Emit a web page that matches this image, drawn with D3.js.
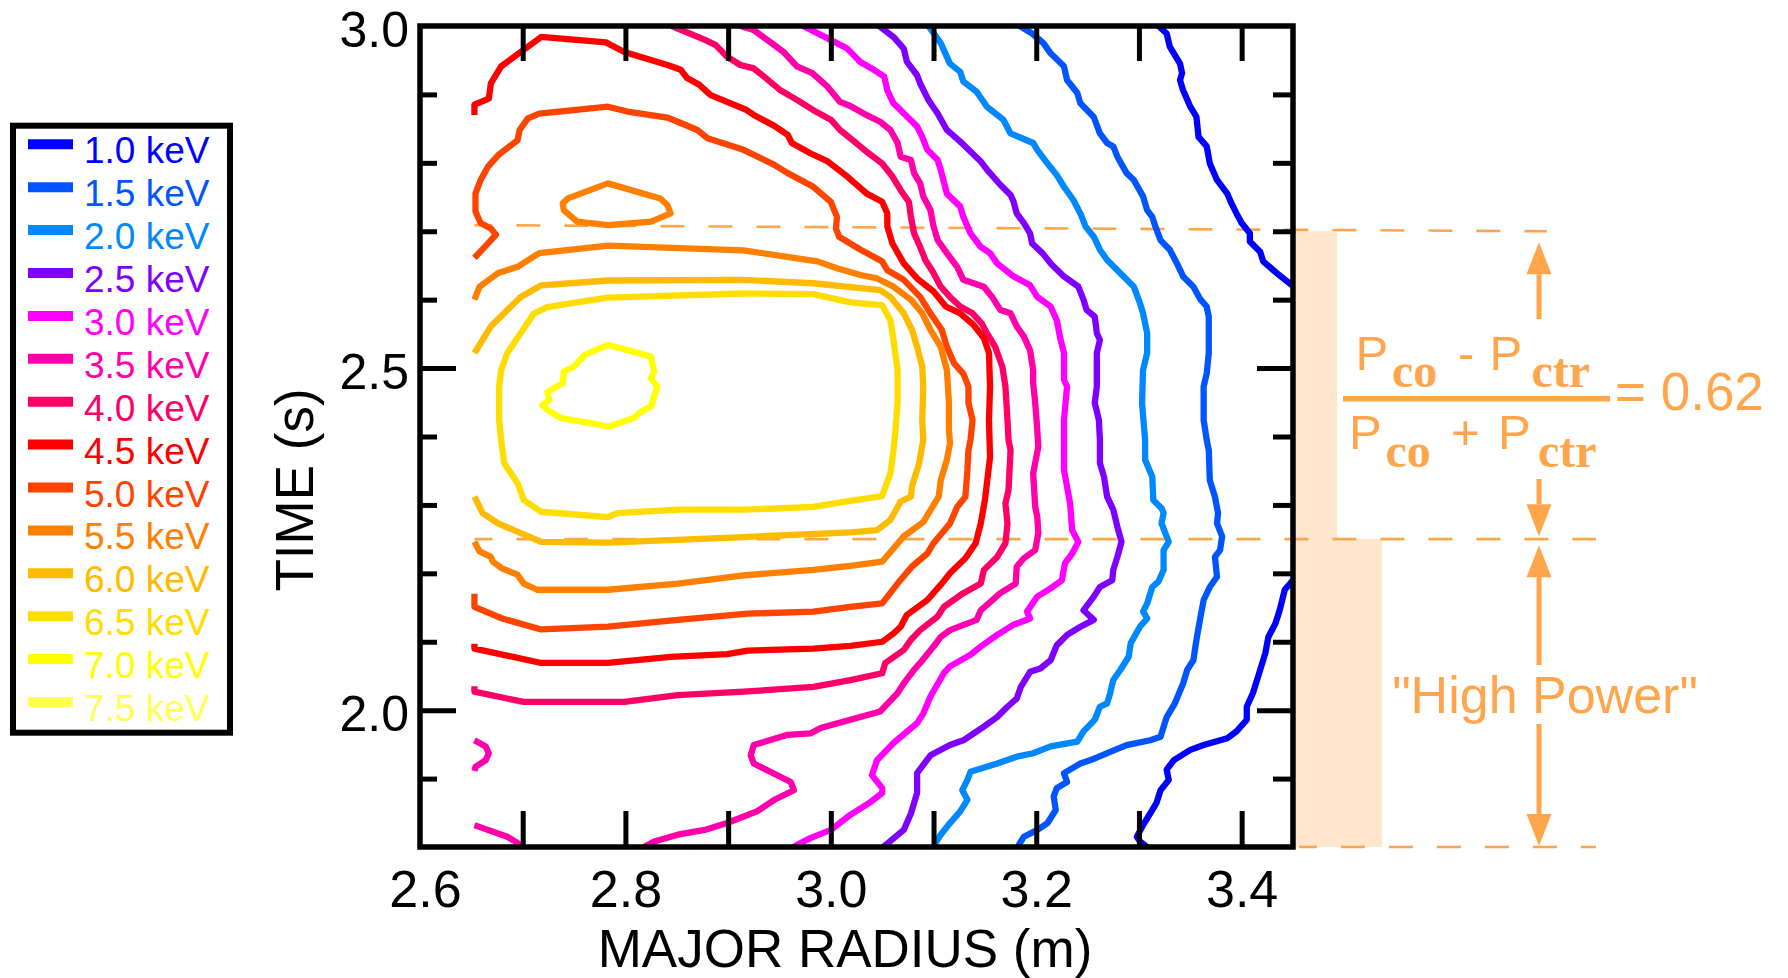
<!DOCTYPE html>
<html>
<head>
<meta charset="utf-8">
<script src="https://cdn.jsdelivr.net/npm/d3@7"></script>
<style>
  body { margin: 0; background: #fff; }
  svg { display: block; }
  text { font-family: "Liberation Sans", Arial, sans-serif; }
</style>
</head>
<body>
<svg id="chart" width="1788" height="978"></svg>
<script>
// ---- Electron temperature contours, T_e(R, t), in keV ----
const legendLevels = ["1.0","1.5","2.0","2.5","3.0","3.5","4.0","4.5","5.0","5.5","6.0","6.5","7.0","7.5"];
const levelColors  = ["#0000ff","#0055ff","#0088ff","#8000ff","#ff00ff","#ff00aa","#ff0066",
                      "#ff0000","#ff4400","#ff8000","#ffbb00","#ffdd00","#ffff00","#ffff55"];

const xTickLabels = [2.6, 2.8, 3.0, 3.2, 3.4];
const xTickMarks  = [2.7, 2.8, 2.9, 3.0, 3.1, 3.2, 3.3, 3.4];
const yTickLabels = [2.0, 2.5, 3.0];
const yMajorTicks = [2.0, 2.5];
const yMinorTicks = [1.9, 2.1, 2.2, 2.3, 2.4, 2.6, 2.7, 2.8, 2.9];

// each contour is a list of [major radius (m), time (s)]
const c10Top = [[3.319,3.000],[3.327,2.989],[3.330,2.970],[3.340,2.945],[3.342,2.931],[3.340,2.921],[3.343,2.906],[3.350,2.882],[3.356,2.867],[3.358,2.838],[3.366,2.824],[3.369,2.799],[3.376,2.775],[3.386,2.755],[3.390,2.741],[3.395,2.726],[3.400,2.712],[3.408,2.697],[3.408,2.685],[3.418,2.670],[3.421,2.656],[3.434,2.639],[3.450,2.620]];
const c10Bottom = [[3.450,2.190],[3.442,2.176],[3.437,2.146],[3.433,2.127],[3.426,2.107],[3.423,2.083],[3.416,2.049],[3.411,2.025],[3.405,2.005],[3.405,1.986],[3.395,1.969],[3.386,1.959],[3.363,1.949],[3.350,1.942],[3.334,1.927],[3.327,1.913],[3.329,1.898],[3.321,1.883],[3.317,1.864],[3.311,1.849],[3.304,1.832],[3.298,1.815],[3.301,1.808],[3.308,1.800]];
const c15 = [[3.184,3.000],[3.196,2.989],[3.207,2.975],[3.214,2.960],[3.227,2.941],[3.230,2.921],[3.240,2.902],[3.243,2.887],[3.256,2.867],[3.262,2.843],[3.269,2.829],[3.275,2.824],[3.279,2.809],[3.288,2.785],[3.295,2.775],[3.304,2.751],[3.308,2.731],[3.313,2.721],[3.316,2.707],[3.321,2.687],[3.330,2.673],[3.337,2.653],[3.343,2.634],[3.353,2.619],[3.360,2.600],[3.366,2.590],[3.368,2.575],[3.368,2.522],[3.366,2.492],[3.363,2.473],[3.363,2.424],[3.366,2.395],[3.368,2.380],[3.369,2.336],[3.374,2.312],[3.377,2.288],[3.376,2.273],[3.381,2.254],[3.379,2.234],[3.374,2.224],[3.376,2.195],[3.369,2.180],[3.363,2.161],[3.360,2.137],[3.356,2.103],[3.353,2.073],[3.347,2.059],[3.343,2.039],[3.335,2.010],[3.327,1.990],[3.321,1.961],[3.311,1.956],[3.288,1.949],[3.272,1.939],[3.253,1.927],[3.243,1.922],[3.227,1.908],[3.230,1.895],[3.220,1.886],[3.217,1.874],[3.219,1.854],[3.211,1.835],[3.201,1.825],[3.188,1.815],[3.183,1.803],[3.183,1.800]];
const c20 = [[3.095,3.000],[3.107,2.975],[3.116,2.945],[3.126,2.933],[3.129,2.919],[3.142,2.904],[3.152,2.882],[3.168,2.863],[3.175,2.843],[3.197,2.829],[3.201,2.819],[3.211,2.799],[3.220,2.782],[3.227,2.765],[3.236,2.746],[3.243,2.726],[3.248,2.707],[3.256,2.692],[3.262,2.673],[3.269,2.658],[3.279,2.643],[3.295,2.619],[3.301,2.595],[3.304,2.580],[3.308,2.551],[3.308,2.522],[3.304,2.497],[3.303,2.449],[3.306,2.395],[3.306,2.366],[3.313,2.341],[3.314,2.307],[3.322,2.295],[3.324,2.288],[3.322,2.273],[3.329,2.246],[3.324,2.234],[3.324,2.205],[3.319,2.188],[3.313,2.180],[3.308,2.156],[3.304,2.144],[3.308,2.134],[3.301,2.122],[3.292,2.098],[3.290,2.078],[3.282,2.059],[3.275,2.044],[3.272,2.025],[3.269,2.010],[3.262,2.005],[3.257,1.986],[3.246,1.969],[3.240,1.954],[3.214,1.947],[3.197,1.937],[3.181,1.932],[3.162,1.922],[3.136,1.910],[3.133,1.898],[3.128,1.883],[3.133,1.869],[3.126,1.852],[3.116,1.835],[3.107,1.818],[3.102,1.806],[3.100,1.800]];
const c25 = [[3.047,3.000],[3.061,2.984],[3.071,2.967],[3.074,2.948],[3.084,2.928],[3.087,2.916],[3.095,2.892],[3.104,2.872],[3.113,2.848],[3.126,2.831],[3.133,2.821],[3.146,2.802],[3.152,2.790],[3.165,2.768],[3.175,2.753],[3.178,2.743],[3.181,2.726],[3.188,2.712],[3.194,2.697],[3.196,2.682],[3.206,2.668],[3.214,2.653],[3.227,2.634],[3.241,2.619],[3.246,2.600],[3.249,2.585],[3.257,2.575],[3.259,2.551],[3.262,2.541],[3.259,2.522],[3.259,2.473],[3.257,2.449],[3.261,2.424],[3.262,2.395],[3.262,2.361],[3.266,2.341],[3.269,2.312],[3.275,2.293],[3.279,2.268],[3.283,2.246],[3.279,2.224],[3.275,2.205],[3.274,2.190],[3.262,2.180],[3.256,2.166],[3.246,2.146],[3.256,2.132],[3.243,2.122],[3.230,2.110],[3.220,2.095],[3.214,2.073],[3.204,2.061],[3.194,2.056],[3.185,2.034],[3.181,2.017],[3.172,2.005],[3.162,1.990],[3.149,1.976],[3.129,1.956],[3.116,1.949],[3.097,1.934],[3.084,1.908],[3.084,1.879],[3.078,1.849],[3.071,1.825],[3.055,1.805],[3.051,1.800]];
const c30 = [[2.973,3.000],[2.997,2.982],[3.016,2.967],[3.029,2.947],[3.042,2.936],[3.052,2.926],[3.055,2.906],[3.061,2.887],[3.068,2.877],[3.084,2.853],[3.089,2.838],[3.094,2.819],[3.104,2.804],[3.107,2.790],[3.113,2.755],[3.126,2.736],[3.129,2.721],[3.136,2.697],[3.146,2.677],[3.155,2.668],[3.162,2.653],[3.178,2.634],[3.194,2.621],[3.201,2.604],[3.214,2.590],[3.220,2.570],[3.223,2.546],[3.227,2.522],[3.227,2.483],[3.230,2.473],[3.227,2.424],[3.227,2.351],[3.233,2.302],[3.235,2.263],[3.241,2.246],[3.235,2.229],[3.228,2.215],[3.225,2.190],[3.214,2.178],[3.201,2.166],[3.191,2.144],[3.194,2.134],[3.178,2.125],[3.162,2.110],[3.146,2.093],[3.136,2.081],[3.116,2.064],[3.110,2.054],[3.097,2.020],[3.090,1.995],[3.084,1.981],[3.061,1.952],[3.045,1.927],[3.040,1.905],[3.050,1.886],[3.050,1.879],[3.039,1.866],[3.019,1.847],[3.000,1.825],[2.980,1.813],[2.967,1.803],[2.964,1.800]];
const c35Main = [[2.912,3.000],[2.925,2.994],[2.945,2.972],[2.954,2.962],[2.967,2.941],[2.982,2.931],[2.997,2.911],[3.009,2.889],[3.019,2.883],[3.032,2.872],[3.048,2.860],[3.058,2.848],[3.065,2.829],[3.068,2.809],[3.078,2.804],[3.081,2.785],[3.087,2.770],[3.090,2.751],[3.097,2.731],[3.100,2.707],[3.104,2.687],[3.113,2.668],[3.123,2.648],[3.129,2.629],[3.149,2.619],[3.157,2.604],[3.165,2.585],[3.175,2.580],[3.181,2.561],[3.188,2.546],[3.194,2.526],[3.197,2.497],[3.197,2.478],[3.199,2.449],[3.201,2.410],[3.202,2.385],[3.197,2.346],[3.199,2.297],[3.201,2.283],[3.202,2.259],[3.199,2.234],[3.188,2.222],[3.181,2.210],[3.180,2.185],[3.165,2.171],[3.146,2.146],[3.142,2.132],[3.116,2.117],[3.107,2.107],[3.100,2.093],[3.087,2.069],[3.081,2.059],[3.071,2.039],[3.065,2.025],[3.048,1.998],[3.019,1.986],[2.990,1.974],[2.980,1.966],[2.958,1.964],[2.925,1.949],[2.922,1.934],[2.925,1.922],[2.941,1.910],[2.961,1.895],[2.964,1.883],[2.945,1.869],[2.928,1.852],[2.899,1.835],[2.877,1.825],[2.851,1.818],[2.828,1.808],[2.818,1.800]];
const c35Corner = [[2.653,1.832],[2.666,1.825],[2.685,1.815],[2.698,1.803],[2.700,1.800]];
const c35Edge = [[2.653,1.956],[2.664,1.947],[2.667,1.937],[2.664,1.927],[2.654,1.917],[2.653,1.911]];
const c40 = [[2.845,3.000],[2.877,2.980],[2.888,2.972],[2.899,2.955],[2.912,2.943],[2.925,2.938],[2.935,2.926],[2.951,2.906],[2.967,2.892],[2.983,2.877],[3.000,2.863],[3.009,2.848],[3.019,2.836],[3.035,2.816],[3.050,2.799],[3.060,2.780],[3.068,2.760],[3.076,2.743],[3.078,2.721],[3.081,2.697],[3.087,2.677],[3.092,2.658],[3.100,2.639],[3.107,2.619],[3.116,2.604],[3.126,2.590],[3.138,2.580],[3.147,2.565],[3.152,2.551],[3.160,2.531],[3.167,2.502],[3.170,2.473],[3.172,2.424],[3.173,2.395],[3.175,2.380],[3.173,2.322],[3.170,2.302],[3.172,2.273],[3.170,2.244],[3.162,2.224],[3.149,2.205],[3.146,2.185],[3.129,2.171],[3.110,2.151],[3.104,2.137],[3.087,2.117],[3.078,2.103],[3.071,2.088],[3.053,2.069],[3.050,2.054],[3.019,2.044],[2.983,2.034],[2.915,2.027],[2.851,2.022],[2.799,2.012],[2.701,2.012],[2.653,2.027],[2.653,2.035]];
const c45 = [[2.653,2.870],[2.653,2.885],[2.667,2.894],[2.669,2.916],[2.679,2.941],[2.698,2.962],[2.718,2.984],[2.781,2.976],[2.799,2.962],[2.841,2.943],[2.854,2.936],[2.860,2.924],[2.872,2.914],[2.883,2.899],[2.899,2.889],[2.917,2.878],[2.925,2.870],[2.945,2.854],[2.958,2.841],[2.962,2.829],[2.980,2.814],[2.997,2.802],[3.016,2.780],[3.035,2.755],[3.050,2.743],[3.055,2.726],[3.055,2.707],[3.060,2.682],[3.071,2.653],[3.084,2.631],[3.100,2.612],[3.112,2.590],[3.126,2.580],[3.139,2.563],[3.149,2.544],[3.154,2.522],[3.155,2.473],[3.154,2.424],[3.155,2.370],[3.152,2.332],[3.150,2.307],[3.146,2.273],[3.141,2.244],[3.131,2.222],[3.116,2.200],[3.108,2.185],[3.094,2.161],[3.074,2.139],[3.068,2.122],[3.061,2.112],[3.050,2.100],[3.019,2.094],[2.983,2.090],[2.919,2.087],[2.899,2.082],[2.844,2.078],[2.783,2.069],[2.718,2.069],[2.653,2.090],[2.653,2.097]];
const c50 = [[2.653,2.661],[2.666,2.682],[2.674,2.695],[2.669,2.704],[2.659,2.712],[2.654,2.729],[2.654,2.755],[2.659,2.775],[2.666,2.794],[2.676,2.811],[2.695,2.833],[2.697,2.848],[2.705,2.865],[2.716,2.872],[2.783,2.882],[2.802,2.875],[2.841,2.866],[2.851,2.860],[2.870,2.848],[2.880,2.836],[2.915,2.819],[2.945,2.797],[2.958,2.785],[2.983,2.765],[3.000,2.743],[3.006,2.721],[3.005,2.704],[3.008,2.692],[3.029,2.673],[3.050,2.656],[3.055,2.643],[3.071,2.629],[3.087,2.604],[3.097,2.580],[3.108,2.556],[3.113,2.531],[3.120,2.507],[3.129,2.492],[3.134,2.473],[3.134,2.449],[3.138,2.424],[3.136,2.395],[3.134,2.380],[3.133,2.351],[3.131,2.312],[3.123,2.297],[3.116,2.273],[3.100,2.244],[3.094,2.229],[3.079,2.210],[3.065,2.185],[3.050,2.156],[3.019,2.151],[2.983,2.144],[2.919,2.141],[2.851,2.132],[2.783,2.122],[2.718,2.118],[2.680,2.134],[2.653,2.151],[2.653,2.170]];
const c55Main = [[2.653,2.600],[2.658,2.619],[2.676,2.639],[2.695,2.648],[2.716,2.668],[2.783,2.679],[2.915,2.672],[2.987,2.656],[3.006,2.646],[3.029,2.636],[3.045,2.631],[3.061,2.619],[3.078,2.600],[3.089,2.580],[3.097,2.556],[3.107,2.531],[3.113,2.497],[3.115,2.449],[3.115,2.410],[3.116,2.390],[3.113,2.366],[3.107,2.336],[3.105,2.312],[3.090,2.275],[3.071,2.254],[3.050,2.217],[3.019,2.211],[2.983,2.205],[2.915,2.197],[2.851,2.185],[2.783,2.176],[2.714,2.176],[2.701,2.185],[2.695,2.198],[2.680,2.207],[2.671,2.217],[2.669,2.224],[2.658,2.232],[2.653,2.246]];
const c55Loop = [[2.783,2.770],[2.834,2.748],[2.841,2.738],[2.844,2.726],[2.825,2.714],[2.783,2.709],[2.753,2.714],[2.740,2.731],[2.739,2.741],[2.744,2.748]];
const c60 = [[2.653,2.522],[2.669,2.561],[2.698,2.604],[2.718,2.621],[2.783,2.628],[2.915,2.629],[2.983,2.624],[3.029,2.617],[3.048,2.614],[3.058,2.604],[3.071,2.580],[3.079,2.556],[3.084,2.531],[3.089,2.502],[3.090,2.473],[3.089,2.424],[3.090,2.395],[3.086,2.361],[3.079,2.327],[3.078,2.312],[3.068,2.305],[3.058,2.278],[3.045,2.263],[3.019,2.260],[2.915,2.253],[2.783,2.245],[2.718,2.246],[2.676,2.273],[2.661,2.288],[2.653,2.312]];
const c65 = [[2.983,2.608],[2.915,2.609],[2.783,2.603],[2.757,2.597],[2.724,2.589],[2.711,2.580],[2.698,2.551],[2.685,2.522],[2.679,2.497],[2.677,2.473],[2.677,2.424],[2.679,2.395],[2.682,2.361],[2.695,2.332],[2.701,2.307],[2.718,2.290],[2.783,2.282],[2.792,2.288],[2.851,2.293],[2.915,2.293],[2.983,2.297],[3.019,2.306],[3.050,2.313],[3.058,2.346],[3.061,2.380],[3.063,2.410],[3.065,2.449],[3.065,2.497],[3.061,2.541],[3.058,2.570],[3.050,2.592],[3.019,2.596]];
const c70 = [[2.783,2.534],[2.802,2.526],[2.825,2.517],[2.826,2.507],[2.828,2.495],[2.825,2.485],[2.831,2.473],[2.828,2.458],[2.825,2.444],[2.815,2.436],[2.808,2.427],[2.783,2.414],[2.776,2.417],[2.737,2.427],[2.724,2.439],[2.719,2.446],[2.726,2.453],[2.724,2.465],[2.739,2.478],[2.740,2.495],[2.750,2.502],[2.760,2.519]];

// contour pieces per level (index into legendLevels / levelColors)
const contourSets = [
  { level: 0,  open: [c10Top, c10Bottom], closed: [] },
  { level: 1,  open: [c15], closed: [] },
  { level: 2,  open: [c20], closed: [] },
  { level: 3,  open: [c25], closed: [] },
  { level: 4,  open: [c30], closed: [] },
  { level: 5,  open: [c35Main, c35Corner, c35Edge], closed: [] },
  { level: 6,  open: [c40], closed: [] },
  { level: 7,  open: [c45], closed: [] },
  { level: 8,  open: [c50], closed: [] },
  { level: 9,  open: [c55Main], closed: [c55Loop] },
  { level: 10, open: [c60], closed: [] },
  { level: 11, open: [], closed: [c65] },
  { level: 12, open: [], closed: [c70] }
];

// time window annotation (s): balanced-injection window and high power phase
const windowTimes = [2.70, 2.25, 1.80];
const ratioValue = "0.62";
const annotColor = "#ffa64d";
const shadeColor = "#ffe6cc";

// ---- scales ----
const svg = d3.select("#chart");
const x = d3.scaleLinear().domain([2.6, 3.45]).range([420, 1293]);
const y = d3.scaleLinear().domain([1.8, 3.0]).range([847, 26]);

svg.append("rect").attr("width", 1788).attr("height", 978).attr("fill", "#fff");

svg.append("defs").append("clipPath").attr("id", "plotClip")
  .append("rect")
  .attr("x", x(2.6)).attr("y", y(3.0))
  .attr("width", x(3.45) - x(2.6)).attr("height", y(1.8) - y(3.0));

// ---- time window annotation (behind the contours) ----
const ann = svg.append("g");
const frameRight = x(3.45);

ann.append("rect")
  .attr("x", frameRight + 3).attr("y", y(windowTimes[0]))
  .attr("width", 41).attr("height", y(windowTimes[1]) - y(windowTimes[0]))
  .attr("fill", shadeColor);
ann.append("rect")
  .attr("x", frameRight + 3).attr("y", y(windowTimes[1]))
  .attr("width", 86).attr("height", y(windowTimes[2]) - y(windowTimes[1]))
  .attr("fill", shadeColor);

const dashed = [
  { x1: x(2.653), y1: y(2.709), x2: 1547, y2: y(windowTimes[0]) },
  { x1: x(2.653), y1: y(windowTimes[1]), x2: 1596, y2: y(windowTimes[1]) },
  { x1: frameRight + 6, y1: y(windowTimes[2]), x2: 1596, y2: y(windowTimes[2]) }
];
ann.selectAll("line.dash").data(dashed).join("line")
  .attr("class", "dash")
  .attr("x1", d => d.x1).attr("y1", d => d.y1)
  .attr("x2", d => d.x2).attr("y2", d => d.y2)
  .attr("stroke", annotColor).attr("stroke-width", 2.6)
  .attr("stroke-dasharray", "24,24").attr("stroke-dashoffset", 6);

// arrows: tip and tail positions relative to the window edges
const arrowX = 1539;
const arrows = [
  { tip: y(windowTimes[0]) + 11, tail: 319 },
  { tip: y(windowTimes[1]) - 3,  tail: 479 },
  { tip: y(windowTimes[1]) + 6,  tail: 665 },
  { tip: y(windowTimes[2]) - 1,  tail: 724 }
];
arrows.forEach(a => {
  const dir = a.tail > a.tip ? 1 : -1;
  const base = a.tip + dir * 32;
  ann.append("line")
    .attr("x1", arrowX).attr("x2", arrowX)
    .attr("y1", base).attr("y2", a.tail)
    .attr("stroke", annotColor).attr("stroke-width", 5);
  ann.append("path")
    .attr("d", `M${arrowX},${a.tip} L${arrowX - 12.5},${base} L${arrowX + 12.5},${base} Z`)
    .attr("fill", annotColor);
});

// fraction (P_co - P_ctr)/(P_co + P_ctr) = 0.62
const sans = "'Liberation Sans', Arial, sans-serif";
const serif = "'Liberation Serif', 'Times New Roman', serif";
const fracParts = [
  { t: "P",   x: 1355.5, y: 370,   f: sans,  s: 49, w: "normal" },
  { t: "co",  x: 1392,   y: 387.3, f: serif, s: 48, w: "bold" },
  { t: "-",   x: 1458,   y: 370,   f: sans,  s: 49, w: "normal" },
  { t: "P",   x: 1489.5, y: 370,   f: sans,  s: 49, w: "normal" },
  { t: "ctr", x: 1531.5, y: 387.3, f: serif, s: 48, w: "bold" },
  { t: "P",   x: 1349,   y: 449.3, f: sans,  s: 49, w: "normal" },
  { t: "co",  x: 1385.5, y: 466.7, f: serif, s: 48, w: "bold" },
  { t: "+",   x: 1451,   y: 449.3, f: sans,  s: 49, w: "normal" },
  { t: "P",   x: 1498,   y: 449.3, f: sans,  s: 49, w: "normal" },
  { t: "ctr", x: 1538,   y: 466.7, f: serif, s: 48, w: "bold" },
  { t: "= " + ratioValue, x: 1615, y: 410, f: sans, s: 53, w: "normal" }
];
ann.selectAll("text.frac").data(fracParts).join("text")
  .attr("class", "frac")
  .attr("x", d => d.x).attr("y", d => d.y)
  .style("font-family", d => d.f).attr("font-size", d => d.s)
  .attr("font-weight", d => d.w)
  .attr("fill", annotColor).text(d => d.t);
ann.append("line")
  .attr("x1", 1343).attr("x2", 1610).attr("y1", 398.8).attr("y2", 398.8)
  .attr("stroke", annotColor).attr("stroke-width", 5.5);

ann.append("text")
  .attr("x", 1545).attr("y", 713)
  .attr("text-anchor", "middle").attr("font-size", 52)
  .attr("fill", annotColor).text("\"High Power\"");

// ---- contours ----
const line = d3.line().x(d => x(d[0])).y(d => y(d[1]));
const loop = d3.line().x(d => x(d[0])).y(d => y(d[1])).curve(d3.curveLinearClosed);
const contourWidth = 6.3;

const plot = svg.append("g").attr("clip-path", "url(#plotClip)");
contourSets.forEach(set => {
  const color = levelColors[set.level];
  set.open.forEach(pts => {
    plot.append("path").attr("d", line(pts))
      .attr("fill", "none").attr("stroke", color).attr("stroke-width", contourWidth)
      .attr("stroke-linejoin", "round").attr("stroke-linecap", "butt");
  });
  set.closed.forEach(pts => {
    plot.append("path").attr("d", loop(pts))
      .attr("fill", "none").attr("stroke", color).attr("stroke-width", contourWidth)
      .attr("stroke-linejoin", "round");
  });
});

// ---- axes (inward ticks on all four sides) ----
function styleTicks(g) {
  g.select(".domain").remove();
  g.selectAll(".tick line").attr("stroke", "#000").attr("stroke-width", 5);
}
svg.append("g").attr("transform", `translate(0,${y(1.8)})`)
  .call(d3.axisBottom(x).tickValues(xTickMarks).tickSize(-36).tickFormat(""))
  .call(styleTicks);
svg.append("g").attr("transform", `translate(0,${y(3.0)})`)
  .call(d3.axisTop(x).tickValues(xTickMarks).tickSize(-35).tickFormat(""))
  .call(styleTicks);
svg.append("g").attr("transform", `translate(${x(2.6)},0)`)
  .call(d3.axisLeft(y).tickValues(yMinorTicks).tickSize(-17).tickFormat(""))
  .call(styleTicks);
svg.append("g").attr("transform", `translate(${x(2.6)},0)`)
  .call(d3.axisLeft(y).tickValues(yMajorTicks).tickSize(-36).tickFormat(""))
  .call(styleTicks);
svg.append("g").attr("transform", `translate(${x(3.45)},0)`)
  .call(d3.axisRight(y).tickValues(yMinorTicks).tickSize(-20).tickFormat(""))
  .call(styleTicks);
svg.append("g").attr("transform", `translate(${x(3.45)},0)`)
  .call(d3.axisRight(y).tickValues(yMajorTicks).tickSize(-36).tickFormat(""))
  .call(styleTicks);

// frame
svg.append("rect")
  .attr("x", x(2.6)).attr("y", y(3.0))
  .attr("width", x(3.45) - x(2.6)).attr("height", y(1.8) - y(3.0))
  .attr("fill", "none").attr("stroke", "#000").attr("stroke-width", 5.5);

// tick labels
const xLab = svg.append("g").attr("transform", `translate(0,${y(1.8)})`)
  .call(d3.axisBottom(x).tickValues(xTickLabels).tickSize(0).tickPadding(23).tickFormat(d3.format(".1f")));
xLab.select(".domain").remove();
xLab.selectAll("text").attr("font-size", 52).attr("fill", "#000")
  .style("font-family", sans)
  .attr("dx", d => d === 2.6 ? 5 : 0);

const yLab = svg.append("g").attr("transform", `translate(${x(2.6)},0)`)
  .call(d3.axisLeft(y).tickValues(yTickLabels).tickSize(0).tickPadding(11).tickFormat(d3.format(".1f")));
yLab.select(".domain").remove();
yLab.selectAll("text").attr("font-size", 50).attr("dy", "0.4em").attr("fill", "#000")
  .style("font-family", sans);

// axis titles
svg.append("text")
  .attr("x", 845).attr("y", 967).attr("text-anchor", "middle")
  .attr("font-size", 53).attr("fill", "#000").text("MAJOR RADIUS (m)");
svg.append("text")
  .attr("transform", "translate(313,490) rotate(-90)")
  .attr("text-anchor", "middle")
  .attr("font-size", 53).attr("fill", "#000").text("TIME (s)");

// ---- legend ----
const legend = svg.append("g");
legend.append("rect")
  .attr("x", 13).attr("y", 125.7).attr("width", 217).attr("height", 607)
  .attr("fill", "#fff").attr("stroke", "#000").attr("stroke-width", 6);
const rowStep = 42.9;
legendLevels.forEach((lv, i) => {
  const base = 163.3 + i * rowStep;
  legend.append("line")
    .attr("x1", 28).attr("x2", 73)
    .attr("y1", base - 19).attr("y2", base - 19)
    .attr("stroke", levelColors[i]).attr("stroke-width", 10);
  legend.append("text")
    .attr("x", 84).attr("y", base)
    .attr("font-size", 37).attr("fill", levelColors[i])
    .text(lv + " keV");
});
</script>
</body>
</html>
